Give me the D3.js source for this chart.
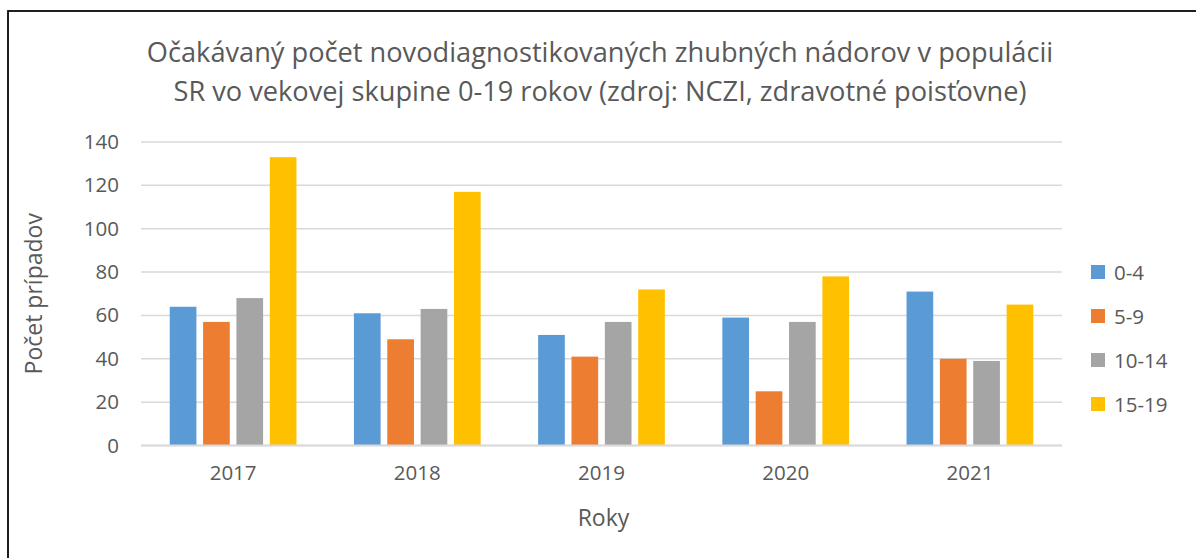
<!DOCTYPE html>
<html>
<head>
<meta charset="utf-8">
<script src="https://cdn.jsdelivr.net/npm/d3@7"></script>
<style>
  body { margin: 0; background: #fff; }
  text { font-family: "Open Sans", sans-serif; fill: #595959; }
</style>
</head>
<body>
<div id="chart"></div>
<script>
const years = ["2017", "2018", "2019", "2020", "2021"];
const groups = ["0-4", "5-9", "10-14", "15-19"];
const v0_4 = [64, 61, 51, 59, 71];
const v5_9 = [57, 49, 41, 25, 40];
const v10_14 = [68, 63, 57, 57, 39];
const v15_19 = [133, 117, 72, 78, 65];
const yTicks = [0, 20, 40, 60, 80, 100, 120, 140];
const colors = ["#5b9bd5", "#ed7d31", "#a5a5a5", "#ffc000"];

const series = [v0_4, v5_9, v10_14, v15_19];

const W = 1196, H = 558;
const plot = { left: 141, right: 1062, top: 142, bottom: 445.5 };

const svg = d3.select("#chart").append("svg")
  .attr("width", W)
  .attr("height", H);

// outer frame (runs off right and bottom edge)
svg.append("rect")
  .attr("x", 8).attr("y", 11)
  .attr("width", 1200).attr("height", 600)
  .attr("fill", "none")
  .attr("stroke", "#000")
  .attr("stroke-width", 1.75);

const x0 = d3.scaleBand().domain(years).range([plot.left, plot.right]).paddingInner(0.312).paddingOuter(0.156);
const x1 = d3.scaleBand().domain(groups).range([0, x0.bandwidth()]).paddingInner(0.2);
const y = d3.scaleLinear().domain([0, 140]).range([plot.bottom, plot.top]);

// gridlines
svg.append("g")
  .selectAll("line")
  .data(yTicks)
  .join("line")
  .attr("x1", plot.left).attr("x2", plot.right)
  .attr("y1", d => y(d)).attr("y2", d => y(d))
  .attr("stroke", "#d9d9d9")
  .attr("stroke-width", 1.5);

// bars
const yearG = svg.append("g")
  .selectAll("g")
  .data(years)
  .join("g")
  .attr("transform", d => `translate(${x0(d)},0)`);

yearG.selectAll("rect")
  .data((yr, i) => groups.map((g, j) => ({ g, j, v: series[j][i] })))
  .join("rect")
  .attr("x", d => x1(d.g))
  .attr("y", d => y(d.v))
  .attr("width", x1.bandwidth())
  .attr("height", d => y(0) - y(d.v))
  .attr("fill", d => colors[d.j]);

// baseline
svg.append("line")
  .attr("x1", plot.left).attr("x2", plot.right)
  .attr("y1", y(0)).attr("y2", y(0))
  .attr("stroke", "#d9d9d9")
  .attr("stroke-width", 2);

// y axis labels
const yAxis = svg.append("g")
  .attr("transform", `translate(${plot.left - 22},0)`)
  .call(d3.axisLeft(y).tickValues(yTicks).tickSize(0).tickPadding(0));
yAxis.select(".domain").remove();
yAxis.selectAll("text")
  .style("font-size", "20.5px")
  .attr("fill", "#595959")
  .style("font-family", "'Open Sans', sans-serif");

// x axis labels
const xAxis = svg.append("g")
  .attr("transform", `translate(0,${plot.bottom})`)
  .call(d3.axisBottom(x0).tickSize(0).tickPadding(20));
xAxis.select(".domain").remove();
xAxis.selectAll("text")
  .style("font-size", "20.5px")
  .attr("fill", "#595959")
  .style("font-family", "'Open Sans', sans-serif");

// titles
const title = svg.append("text")
  .attr("text-anchor", "middle")
  .style("font-size", "27.2px");
title.append("tspan").attr("x", 600).attr("y", 62)
  .text("Očakávaný počet novodiagnostikovaných zhubných nádorov v populácii");
title.append("tspan").attr("x", 600).attr("y", 101)
  .text("SR vo vekovej skupine 0-19 rokov (zdroj: NCZI, zdravotné poisťovne)");

svg.append("text")
  .attr("x", (plot.left + plot.right) / 2 + 2)
  .attr("y", 526)
  .attr("text-anchor", "middle")
  .style("font-size", "23px")
  .text("Roky");

svg.append("text")
  .attr("transform", `translate(42,${(plot.top + plot.bottom) / 2}) rotate(-90)`)
  .attr("text-anchor", "middle")
  .style("font-size", "23px")
  .text("Počet prípadov");

// legend
const legend = svg.append("g")
  .selectAll("g")
  .data(groups)
  .join("g")
  .attr("transform", (d, i) => `translate(1091,${272 + i * 44})`);
legend.append("rect")
  .attr("x", 0).attr("y", -7)
  .attr("width", 14).attr("height", 14)
  .attr("fill", (d, i) => colors[i]);
legend.append("text")
  .attr("x", 23).attr("y", 7.5)
  .style("font-size", "20.5px")
  .text(d => d);
</script>
</body>
</html>
